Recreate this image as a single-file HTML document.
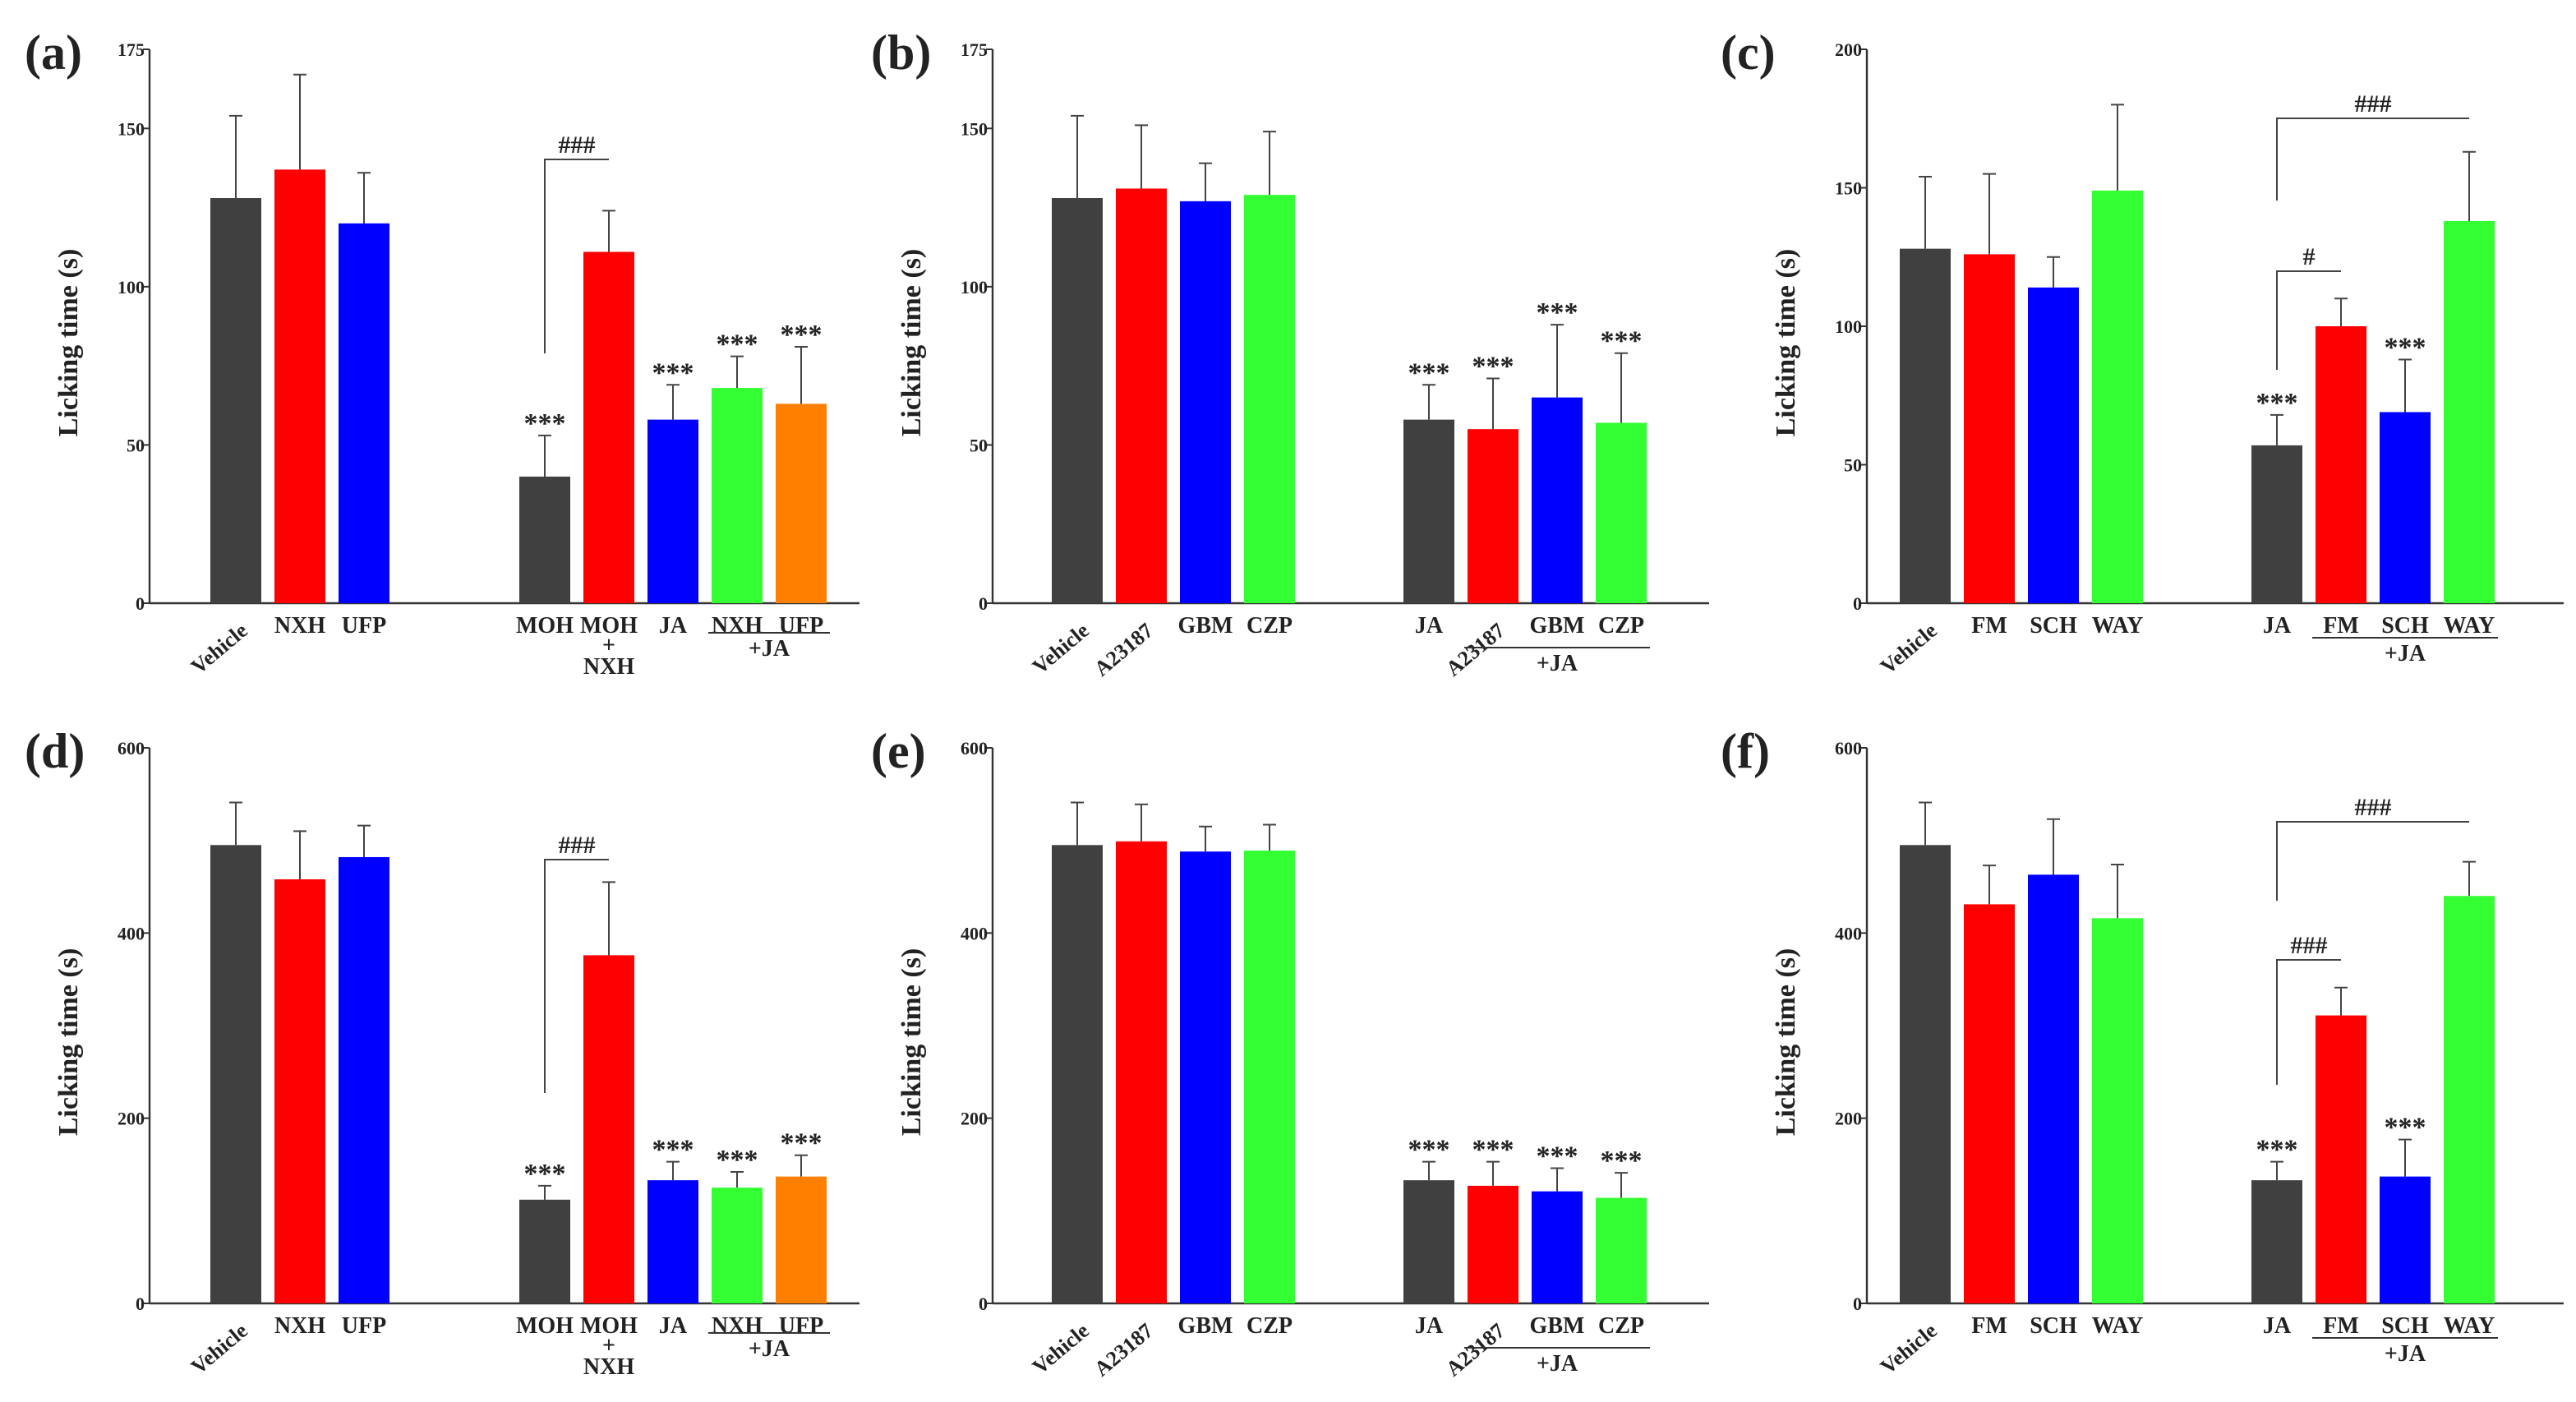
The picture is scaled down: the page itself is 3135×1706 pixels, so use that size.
<!DOCTYPE html>
<html><head><meta charset="utf-8"><style>
html,body{margin:0;padding:0;background:#fff;}
svg{display:block;font-family:"Liberation Serif",serif;font-weight:bold;}
</style></head><body>
<svg id="fig" xmlns="http://www.w3.org/2000/svg" width="3135" height="1706" viewBox="0 0 1567.5 853"></svg>
<script>
// ---- data ----
const catsA = ["Vehicle","NXH","UFP","MOH","MOH+NXH","JA","NXH+JA","UFP+JA"];
const valsA = [128,137,120,40,111,58,68,63];
const errA  = [154,167,136,53,124,69,78,81];
const starA = [0,0,0,1,0,1,1,1];
const catsB = ["Vehicle","A23187","GBM","CZP","JA","A23187+JA","GBM+JA","CZP+JA"];
const valsB = [128,131,127,129,58,55,65,57];
const errB  = [154,151,139,149,69,71,88,79];
const starB = [0,0,0,0,1,1,1,1];
const catsC = ["Vehicle","FM","SCH","WAY","JA","FM+JA","SCH+JA","WAY+JA"];
const valsC = [128,126,114,149,57,100,69,138];
const errC  = [154,155,125,180,68,110,88,163];
const starC = [0,0,0,0,1,0,1,0];
const valsD = [495,458,482,112,376,133,125,137];
const errD  = [541,510,516,127,455,153,142,160];
const starD = [0,0,0,1,0,1,1,1];
const valsE = [495,499,488,489,133,127,121,114];
const errE  = [541,539,515,517,153,153,146,141];
const starE = [0,0,0,0,1,1,1,1];
const valsF = [495,431,463,416,133,311,137,440];
const errF  = [541,473,523,474,153,341,177,477];
const starF = [0,0,0,0,1,0,1,0];
const ticks175 = [0,50,100,150,175];
const ticks200 = [0,50,100,150,200];
const ticks600 = [0,200,400,600];
const colA = ["#404040","#ff0000","#0000ff","#404040","#ff0000","#0000ff","#33ff33","#ff8000"];
const colB = ["#404040","#ff0000","#0000ff","#33ff33","#404040","#ff0000","#0000ff","#33ff33"];

const NS="http://www.w3.org/2000/svg";
const svg=document.getElementById('fig');
function mk(tag,attrs,parent){const e=document.createElementNS(NS,tag);for(const k in attrs)e.setAttribute(k,attrs[k]);(parent||svg).appendChild(e);return e;}
function txt(s,x,y,size,parent,anchor,rot){const t=mk('text',{x:x,y:y,'font-size':size,'text-anchor':anchor||'middle',fill:'#222'},parent);if(rot)t.setAttribute('transform','rotate('+rot+' '+x+' '+y+')');t.textContent=s;return t;}

function panel(p){
  const g=mk('g',{});
  
  
  const y=v=>p.y0-(v/p.ymax)*(p.y0-p.ytop);
  const bx=i=>p.x0+p.off+i*39+(i>=p.split?p.gap:0);
  const bw=31;
  const ax=mk('line',{x1:p.x0,y1:p.ytop,x2:p.x0,y2:p.y0,stroke:'#333','stroke-width':1.2},g);
  
  
  const xa=mk('line',{x1:p.x0,y1:p.y0,x2:p.x1,y2:p.y0,stroke:'#333','stroke-width':1.2},g);
  
  
  p.ticks.forEach(t=>{
    mk('line',{x1:p.x0-4,y1:y(t),x2:p.x0,y2:y(t),stroke:'#333','stroke-width':1},g);
    const tl=txt(String(t),p.x0-3,y(t)+4,11,g,'end');
    
    
  });
  const at=txt('Licking time (s)',p.x0-44,(p.y0+p.ytop)/2+10,17,g,'middle',-90);
  
  
  const pl=txt('('+p.id+')',p.x0-p.lo,p.ytop+12,30,g,'start');
  
  
  p.vals.forEach((v,i)=>{
    const x=bx(i);
    const eb=mk('path',{d:'M'+(x+bw/2)+' '+y(v)+'V'+y(p.err[i])+'M'+(x+bw/2-4)+' '+y(p.err[i])+'H'+(x+bw/2+4),stroke:'#444','stroke-width':1,fill:'none'},g);
    
    
    const r=mk('rect',{x:x,y:y(v),width:bw,height:p.y0-y(v),fill:p.cols[i]},g);
    
    
    if(p.star[i]){
      const s=txt('***',x+bw/2,y(p.err[i])-2,17,g);
      
      
    }
  });
  const ly=p.y0+18;
  p.labels.forEach(L=>{
    const cx=bx(L.i)+bw/2;
    let t;
    if(L.rot){t=txt(L.t,cx+8,ly+(L.dy||0),13,g,'end',-40);}
    else{t=txt(L.t,cx,ly+(L.dy||0),14,g);}
    
    
  });
  if(p.under){
    const u=p.under;
    const x1=bx(u.a)-2,x2=bx(u.b)+bw+2;
    const ul=mk('line',{x1:x1,y1:p.y0+u.dy,x2:x2,y2:p.y0+u.dy,stroke:'#333','stroke-width':1},g);
    
    
    const j=txt('+JA',(x1+x2)/2,p.y0+u.dy+14,14,g);
    
    
  }
  (p.brackets||[]).forEach(B=>{
    const xl=bx(B.a)+bw/2, xr=bx(B.b)+bw/2;
    const by=p.y0-B.top, bb=p.y0-B.bot;
    const bl=mk('path',{d:'M'+xl+' '+bb+'V'+by+'H'+xr,stroke:'#444','stroke-width':1,fill:'none'},g);
    
    
    const h=txt(B.t,(xl+xr)/2,by-4,15,g);
    
    
  });
}
const labA=[{t:'Vehicle',i:0,rot:1},{t:'NXH',i:1},{t:'UFP',i:2},{t:'MOH',i:3},{t:'MOH',i:4},{t:'+',i:4,dy:12},{t:'NXH',i:4,dy:25},{t:'JA',i:5},{t:'NXH',i:6},{t:'UFP',i:7}];
const labB=[{t:'Vehicle',i:0,rot:1},{t:'A23187',i:1,rot:1},{t:'GBM',i:2},{t:'CZP',i:3},{t:'JA',i:4},{t:'A23187',i:5,rot:1},{t:'GBM',i:6},{t:'CZP',i:7}];
const labC=[{t:'Vehicle',i:0,rot:1},{t:'FM',i:1},{t:'SCH',i:2},{t:'WAY',i:3},{t:'JA',i:4},{t:'FM',i:5},{t:'SCH',i:6},{t:'WAY',i:7}];
const r1={y0:367,ytop:30}, r2={y0:793,ytop:455};
panel({id:'a',lo:76,x0:91,x1:523,...r1,ymax:175,ticks:ticks175,off:37,split:3,gap:71,cats:catsA,vals:valsA,err:errA,star:starA,cols:colA,labels:labA,under:{a:6,b:7,dy:18},brackets:[{a:3,b:4,top:270,bot:152,t:'###'}]});
panel({id:'b',lo:74,x0:604,x1:1040,...r1,ymax:175,ticks:ticks175,off:36,split:4,gap:58,cats:catsB,vals:valsB,err:errB,star:starB,cols:colB,labels:labB,under:{a:5,b:7,dy:27}});
panel({id:'c',lo:89,x0:1136,x1:1560,...r1,ymax:200,ticks:ticks200,off:20,split:4,gap:58,cats:catsC,vals:valsC,err:errC,star:starC,cols:colB,labels:labC,under:{a:5,b:7,dy:21},brackets:[{a:4,b:7,top:295,bot:245,t:'###'},{a:4,b:5,top:202,bot:142,t:'#'}]});
panel({id:'d',lo:76,x0:91,x1:523,...r2,ymax:600,ticks:ticks600,off:37,split:3,gap:71,cats:catsA,vals:valsD,err:errD,star:starD,cols:colA,labels:labA,under:{a:6,b:7,dy:18},brackets:[{a:3,b:4,top:270,bot:128,t:'###'}]});
panel({id:'e',lo:74,x0:604,x1:1040,...r2,ymax:600,ticks:ticks600,off:36,split:4,gap:58,cats:catsB,vals:valsE,err:errE,star:starE,cols:colB,labels:labB,under:{a:5,b:7,dy:27}});
panel({id:'f',lo:89,x0:1136,x1:1560,...r2,ymax:600,ticks:ticks600,off:20,split:4,gap:58,cats:catsC,vals:valsF,err:errF,star:starF,cols:colB,labels:labC,under:{a:5,b:7,dy:21},brackets:[{a:4,b:7,top:293,bot:245,t:'###'},{a:4,b:5,top:209,bot:133,t:'###'}]});
</script>
</body></html>
